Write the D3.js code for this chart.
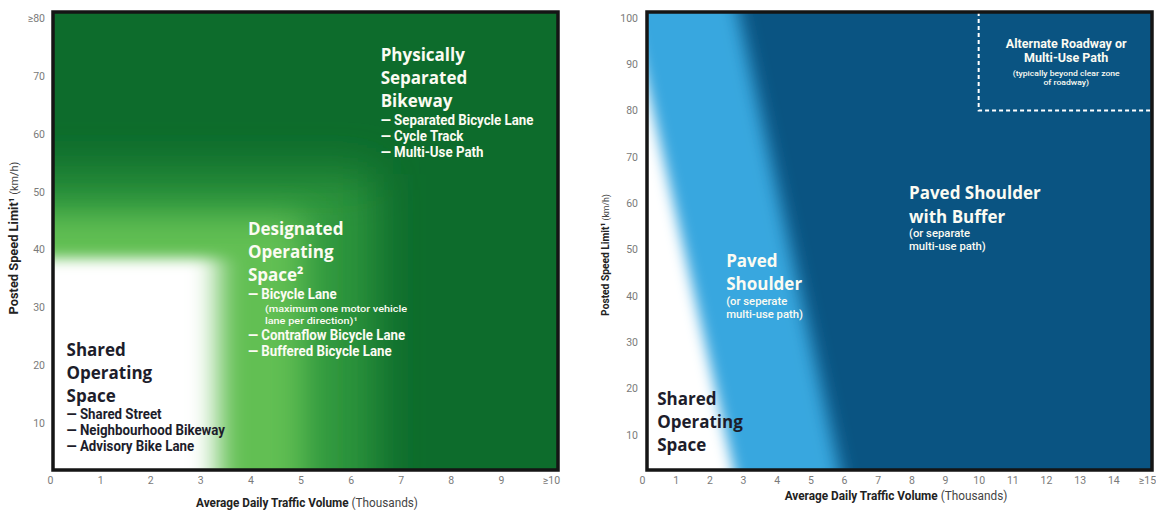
<!DOCTYPE html>
<html><head><meta charset="utf-8">
<script src="https://cdn.jsdelivr.net/npm/d3@7/dist/d3.min.js"></script>
<style>
html,body{margin:0;padding:0;background:#fff;}
svg{display:block;}
.h{font-family:'Open Sans',sans-serif;font-weight:700;font-size:17px;}
.i{font-family:Roboto,sans-serif;font-weight:700;font-size:14.5px;}
.n{font-family:Roboto,sans-serif;font-weight:500;font-size:9.5px;}
.m{font-family:Roboto,sans-serif;font-weight:500;font-size:10px;}
.a{font-family:Roboto,sans-serif;font-weight:700;font-size:12.5px;}
.s{font-family:Roboto,sans-serif;font-weight:500;font-size:7.5px;}
.tick text{font-family:Roboto,sans-serif;font-size:10.5px;fill:#7a7a7a;}
.ttl{font-family:Roboto,sans-serif;font-size:13.5px;fill:#222;}
</style></head><body>
<svg id="chart" width="1156" height="512"></svg>
<script>
// ---------------- DATA ----------------
// Left nomograph: traffic volume (thousands) vs posted speed (km/h)
const leftXTicks = [0,1,2,3,4,5,6,7,8,9,10];
const leftXTickLabels = ['0','1','2','3','4','5','6','7','8','9','\u226510'];
const leftYTicks = [10,20,30,40,50,60,70,80];
const leftYTickLabels = ['10','20','30','40','50','60','70','\u226580'];
// zone extents (upper limits) before the soft transitions
const leftZoneNames = ['Designated (outer)','Designated (core)','Shared Operating Space'];
const leftZoneMaxVolume = [6.5, 5.1, 3.35];
const leftZoneMaxSpeed = [53, 46, 38.5];

// Right nomograph
const rightXTicks = [0,1,2,3,4,5,6,7,8,9,10,11,12,13,14,15];
const rightXTickLabels = ['0','1','2','3','4','5','6','7','8','9','10','11','12','13','14','\u226515'];
const rightYTicks = [10,20,30,40,50,60,70,80,90,100];
const rightYTickLabels = ['10','20','30','40','50','60','70','80','90','100'];
// boundaries: volume at speed 100 and at speed 0
const boundarySpeeds = [100, 0];
const sharedBoundaryVolume = [-0.3, 2.8];
const shoulderBoundaryVolume = [2.9, 5.95];
const alternateMinVolume = 10;
const alternateMinSpeed = 80;

// Labels
const leftBlocks = [
  {color:'#fbfbf2', lines:[['h','Physically'],['h','Separated'],['h','Bikeway'],['i','\u2014 Separated Bicycle Lane'],['i','\u2014 Cycle Track'],['i','\u2014 Multi-Use Path']]},
  {color:'#fbfbf2', lines:[['h','Designated'],['h','Operating'],['h','Space\u00b2'],['i','\u2014 Bicycle Lane'],['n','(maximum one motor vehicle'],['n','lane per direction)\u00b9'],['i','\u2014 Contraflow Bicycle Lane'],['i','\u2014 Buffered Bicycle Lane']]},
  {color:'#1d1d2b', lines:[['h','Shared'],['h','Operating'],['h','Space'],['i','\u2014 Shared Street'],['i','\u2014 Neighbourhood Bikeway'],['i','\u2014 Advisory Bike Lane']]}
];
const rightBlocks = [
  {color:'#fbfbf2', lines:[['h','Paved Shoulder'],['h','with Buffer'],['m','(or separate'],['m','multi-use path)']]},
  {color:'#fbfbf2', lines:[['h','Paved'],['h','Shoulder'],['m','(or seperate'],['m','multi-use path)']]},
  {color:'#1d1d2b', lines:[['h','Shared'],['h','Operating'],['h','Space']]},
  {color:'#fbfbf2', lines:[['a','Alternate Roadway or'],['a','Multi-Use Path'],['s','(typically beyond clear zone'],['s','of roadway)']]}
];

// ---------------- LAYOUT / STYLE ----------------
const leftBlockAnchor = [[6.6,72.6],[3.95,42.5],[0.33,21.6]];
const rightBlockAnchor = [[7.93,60.9],[2.5,46.3],[0.45,16.4],[12.6,93.5]];
const leftBlockSteps = [[0,23,23,18,16,16],[0,23,23,18,13,11.5,16.5,16],[0,23,23,17,16,16]];
const leftBlockIndent = [[0,0,0,0,0,0],[0,0,0,0,17,17,0,0],[0,0,0,0,0,0]];
const rightBlockSteps = [[0,23.5,14.5,13],[0,23.5,14.5,13.5],[0,23,23],[0,14,13.5,9.5]];
// condensed fitting: class -> [sample text, target width px]
const condensedFit = {i:['\u2014 Separated Bicycle Lane',153], n:['(maximum one motor vehicle',147], m:['multi-use path)',77], s:['(typically beyond clear zone',110]};

const svg = d3.select('#chart');
const defs = svg.append('defs');

function measure(cls, txt){
  const t = svg.append('text').attr('class',cls).text(txt);
  const w = t.node().getComputedTextLength();
  t.remove();
  return w;
}
const fitScale = {};
Object.keys(condensedFit).forEach(k=>{
  const s = condensedFit[k][1] / measure(k, condensedFit[k][0]);
  fitScale[k] = Math.min(1.15, s);
});

function blurFilter(id, sx, sy){
  defs.append('filter').attr('id',id).attr('filterUnits','userSpaceOnUse')
    .attr('x',-300).attr('y',-300).attr('width',1800).attr('height',1200)
    .append('feGaussianBlur').attr('stdDeviation', sx+' '+sy);
}
function clip(id, f){
  defs.append('clipPath').attr('id',id).append('rect')
    .attr('x',f.x0).attr('y',f.y0).attr('width',f.x1-f.x0).attr('height',f.y1-f.y0);
}

function drawBlock(g, x, y, block, steps, indents, anchor){
  let yy = y;
  block.lines.forEach((l,k)=>{
    yy += steps[k];
    const sx = fitScale[l[0]] || 1;
    g.append('text').attr('class',l[0]).attr('fill',block.color)
      .attr('text-anchor', anchor||'start')
      .attr('transform','translate('+(x + (indents? indents[k]:0))+','+yy+') scale('+sx+',1)')
      .text(l[1]);
  });
}

function axes(g, x, y, xt, xl, yt, yl, yAxisX){
  g.append('g').attr('transform','translate(0,474)')
    .call(d3.axisBottom(x).tickValues(xt).tickFormat((d,i)=>xl[i]).tickSize(0))
    .call(a=>a.select('.domain').remove());
  g.append('g').attr('transform','translate('+yAxisX+',0)')
    .call(d3.axisLeft(y).tickValues(yt).tickFormat((d,i)=>yl[i]).tickSize(0))
    .call(a=>a.select('.domain').remove());
}

function titles(g, cx, cy, xLen, yx, yy, yLen){
  const t = g.append('text').attr('class','ttl').attr('text-anchor','middle');
  t.append('tspan').attr('font-weight',700).text('Average Daily Traffic Volume');
  t.append('tspan').attr('fill','#444').text(' (Thousands)');
  const s1 = xLen / t.node().getComputedTextLength();
  t.attr('transform','translate('+cx+','+cy+') scale('+s1+',1)');
  const v = g.append('text').attr('class','ttl').attr('text-anchor','middle');
  v.append('tspan').attr('font-weight',700).text('Posted Speed Limit\u00b9');
  v.append('tspan').attr('fill','#444').attr('font-size','11.5px').text(' (km/h)');
  const s2 = yLen / v.node().getComputedTextLength();
  v.attr('transform','translate('+yx+','+yy+') rotate(-90) scale('+s2+','+Math.min(1,s2+0.1)+')');
}

// ---------------- LEFT PANEL ----------------
{
  const f = {x0:53,y0:12,x1:558,y1:470};
  const x = d3.scaleLinear().domain([leftXTicks[0], leftXTicks[leftXTicks.length-1]]).range([50,551]);
  const y = d3.scaleLinear().domain([0, leftYTicks[leftYTicks.length-1]]).range([481,18]);
  clip('clipL', f);
  const zoneColors = ['#2d973d','#62bf53','#ffffff'];
  const zoneBlur = [[23,24],[17,15],[14,7]];
  zoneBlur.forEach((b,i)=>blurFilter('bl'+i, b[0], b[1]));
  const g = svg.append('g');
  const plot = g.append('g').attr('clip-path','url(#clipL)');
  plot.append('rect').attr('x',f.x0).attr('y',f.y0).attr('width',f.x1-f.x0).attr('height',f.y1-f.y0).attr('fill','#0d6c2c');
  plot.selectAll('rect.zone').data(leftZoneNames).join('rect').attr('class','zone')
    .attr('x', x(-1.5))
    .attr('y', (d,i)=>y(leftZoneMaxSpeed[i]))
    .attr('width', (d,i)=>x(leftZoneMaxVolume[i]) - x(-1.5))
    .attr('height', (d,i)=>y(-10) - y(leftZoneMaxSpeed[i]))
    .attr('fill', (d,i)=>zoneColors[i])
    .attr('filter', (d,i)=>'url(#bl'+i+')');
  leftBlocks.forEach((b,i)=>drawBlock(plot, x(leftBlockAnchor[i][0]), y(leftBlockAnchor[i][1]), b, leftBlockSteps[i], leftBlockIndent[i]));
  g.append('rect').attr('x',f.x0).attr('y',f.y0).attr('width',f.x1-f.x0).attr('height',f.y1-f.y0)
    .attr('fill','none').attr('stroke','#151515').attr('stroke-width',3.5);
  axes(g, x, y, leftXTicks, leftXTickLabels, leftYTicks, leftYTickLabels, 48);
  titles(g, 307, 507, 222, 18, 238, 153);
}

// ---------------- RIGHT PANEL ----------------
{
  const f = {x0:647,y0:12,x1:1152,y1:470};
  const x = d3.scaleLinear().domain([rightXTicks[0], rightXTicks[rightXTicks.length-1]]).range([642,1147]);
  const y = d3.scaleLinear().domain([0, rightYTicks[rightYTicks.length-1]]).range([481,18]);
  clip('clipR', f);
  blurFilter('br0', 9, 9);
  blurFilter('br1', 7, 7);
  const g = svg.append('g');
  const plot = g.append('g').attr('clip-path','url(#clipR)');
  plot.append('rect').attr('x',f.x0).attr('y',f.y0).attr('width',f.x1-f.x0).attr('height',f.y1-f.y0).attr('fill','#0a5482');
  const lineAt = (vols, s) => d3.scaleLinear().domain(boundarySpeeds).range(vols)(s);
  const sTop = 115, sBot = -15;
  const polys = [shoulderBoundaryVolume, sharedBoundaryVolume];
  const polyColors = ['#39a7df','#ffffff'];
  plot.selectAll('path.zone').data(polys).join('path').attr('class','zone')
    .attr('d', v => d3.line()([[x(-3),y(sTop)],[x(lineAt(v,sTop)),y(sTop)],[x(lineAt(v,sBot)),y(sBot)],[x(-3),y(sBot)]]) + 'Z')
    .attr('fill', (d,i)=>polyColors[i])
    .attr('filter', (d,i)=>'url(#br'+i+')');
  // dashed alternate roadway box
  plot.append('path')
    .attr('d', d3.line()([[x(alternateMinVolume), f.y0], [x(alternateMinVolume), y(alternateMinSpeed)], [f.x1, y(alternateMinSpeed)]]))
    .attr('fill','none').attr('stroke','#fff').attr('stroke-width',2).attr('stroke-dasharray','4 3');
  rightBlocks.forEach((b,i)=>drawBlock(plot, x(rightBlockAnchor[i][0]), y(rightBlockAnchor[i][1]), b, rightBlockSteps[i], null, i===3?'middle':'start'));
  g.append('rect').attr('x',f.x0).attr('y',f.y0).attr('width',f.x1-f.x0).attr('height',f.y1-f.y0)
    .attr('fill','none').attr('stroke','#151515').attr('stroke-width',3.5);
  axes(g, x, y, rightXTicks, rightXTickLabels, rightYTicks, rightYTickLabels, 641);
  titles(g, 896, 500, 223, 609, 255, 122);
}
</script>
</body></html>
